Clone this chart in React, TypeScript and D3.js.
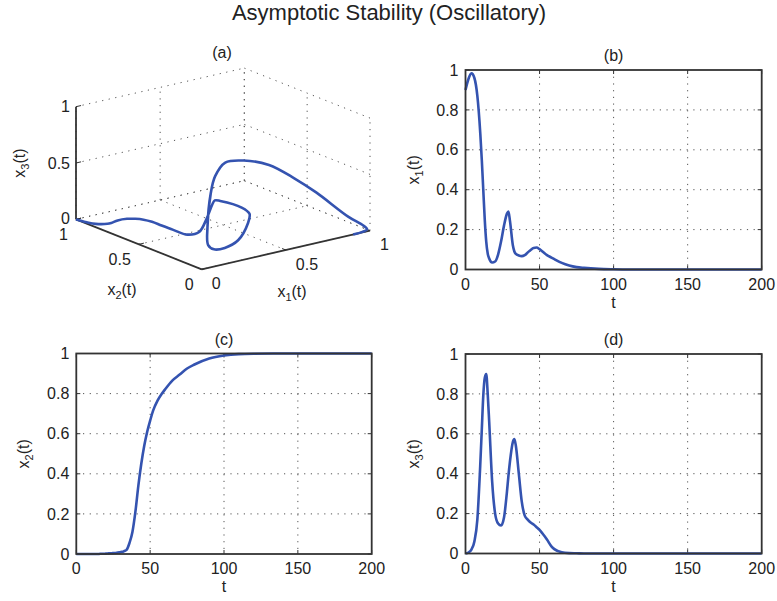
import React from 'react';
import * as d3 from 'd3';

// time samples shared by all three state variables
const TIME = [0, 2, 4, 6, 8, 10, 11, 12, 13, 14, 15, 16, 18, 20, 22, 24, 26, 28, 29, 30, 32, 33, 34, 36, 38, 40, 42, 44, 46, 48, 50, 52, 55, 58, 60, 65, 70, 75, 80, 90, 100, 110, 120, 140, 160, 180, 200];

const X1 = [0.9, 0.955, 0.983, 0.96, 0.87, 0.68, 0.55, 0.4, 0.25, 0.14, 0.08, 0.055, 0.035, 0.04, 0.075, 0.14, 0.22, 0.28, 0.29, 0.245, 0.12, 0.09, 0.078, 0.07, 0.067, 0.072, 0.085, 0.098, 0.108, 0.11, 0.102, 0.09, 0.072, 0.06, 0.052, 0.033, 0.02, 0.012, 0.008, 0.003, 0.001, 0, 0, 0, 0, 0, 0];

const X2 = [0, 0, 0, 0, 0, 0, 0, 0, 0, 0, 0, 0.001, 0.001, 0.002, 0.003, 0.004, 0.005, 0.007, 0.008, 0.01, 0.013, 0.016, 0.02, 0.055, 0.11, 0.21, 0.34, 0.45, 0.54, 0.61, 0.665, 0.715, 0.765, 0.8, 0.82, 0.865, 0.895, 0.925, 0.945, 0.975, 0.99, 0.997, 0.999, 1, 1, 1, 1];

const X3 = [0, 0.005, 0.02, 0.06, 0.17, 0.45, 0.62, 0.79, 0.88, 0.9, 0.8, 0.66, 0.36, 0.2, 0.15, 0.14, 0.18, 0.31, 0.39, 0.46, 0.56, 0.574, 0.54, 0.4, 0.26, 0.19, 0.17, 0.155, 0.145, 0.132, 0.118, 0.1, 0.07, 0.036, 0.022, 0.006, 0.002, 0.001, 0, 0, 0, 0, 0, 0, 0, 0, 0];

const T_TICKS = [0, 50, 100, 150, 200];
const V_TICKS = [0, 0.2, 0.4, 0.6, 0.8, 1];
const CUBE_TICKS = [0, 0.5, 1];

const TITLE = 'Asymptotic Stability (Oscillatory)';

const FONT = '"Liberation Sans", Arial, Helvetica, sans-serif';
const LINE_COLOR = '#3453b0';
const TEXT_COLOR = '#222';
const FRAME_COLOR = '#333';
const GRID_COLOR = '#555';
const GRID_DASH = '1.2 5.5';

function AxisLabel({ x, y, sub, rotate = false }: { x: number; y: number; sub: string; rotate?: boolean }) {
  return (
    <text
      x={x}
      y={y}
      transform={rotate ? `rotate(-90,${x},${y})` : undefined}
      textAnchor="middle"
      fontSize={16}
      fontFamily={FONT}
      fill={TEXT_COLOR}
    >
      x<tspan fontSize={11} dy={4}>{sub}</tspan>
      <tspan dy={-4}>(t)</tspan>
    </text>
  );
}

function TimePanel({ left, right, top, bottom, values, title, sub }: any) {
  const x = d3.scaleLinear().domain([0, 200]).range([left, right]);
  const y = d3.scaleLinear().domain([0, 1]).range([bottom, top]);
  const line = d3
    .line<number>()
    .x((_, i) => x(TIME[i]))
    .y(d => y(d))
    .curve(d3.curveMonotoneX);

  return (
    <g>
      {/* grid */}
      {T_TICKS.slice(1, -1).map(t => (
        <line key={'gx' + t} x1={x(t)} x2={x(t)} y1={top} y2={bottom} stroke={GRID_COLOR} strokeDasharray={GRID_DASH} />
      ))}
      {V_TICKS.slice(1, -1).map(v => (
        <line key={'gy' + v} x1={left} x2={right} y1={y(v)} y2={y(v)} stroke={GRID_COLOR} strokeDasharray={GRID_DASH} />
      ))}
      {/* inward ticks */}
      {T_TICKS.map(t => (
        <g key={'tx' + t} stroke={FRAME_COLOR}>
          <line x1={x(t)} x2={x(t)} y1={bottom} y2={bottom - 4} />
          <line x1={x(t)} x2={x(t)} y1={top} y2={top + 4} />
        </g>
      ))}
      {V_TICKS.map(v => (
        <g key={'ty' + v} stroke={FRAME_COLOR}>
          <line x1={left} x2={left + 4} y1={y(v)} y2={y(v)} />
          <line x1={right} x2={right - 4} y1={y(v)} y2={y(v)} />
        </g>
      ))}
      <path d={line(values) || ''} fill="none" stroke={LINE_COLOR} strokeWidth={2.6} strokeLinejoin="round" />
      <rect x={left} y={top} width={right - left} height={bottom - top} fill="none" stroke={FRAME_COLOR} strokeWidth={1.8} />
      {/* tick labels */}
      {T_TICKS.map(t => (
        <text key={'lx' + t} x={x(t)} y={bottom + 20} textAnchor="middle" fontSize={16} fontFamily={FONT} fill={TEXT_COLOR}>
          {t}
        </text>
      ))}
      {V_TICKS.map(v => (
        <text key={'ly' + v} x={left - 7} y={y(v)} dy="0.35em" textAnchor="end" fontSize={16} fontFamily={FONT} fill={TEXT_COLOR}>
          {v}
        </text>
      ))}
      <text x={(left + right) / 2} y={bottom + 38} textAnchor="middle" fontSize={16} fontFamily={FONT} fill={TEXT_COLOR}>
        t
      </text>
      <AxisLabel x={left - 47} y={(top + bottom) / 2} sub={sub} rotate />
      <text x={(left + right) / 2} y={top - 9} textAnchor="middle" fontSize={16} fontFamily={FONT} fill={TEXT_COLOR}>
        {title}
      </text>
    </g>
  );
}

function PhasePanel() {
  // oblique projection of the unit cube: each coordinate adds a screen offset
  const origin = { x: 201.7, y: 269.3 };
  const a1x = d3.scaleLinear().domain([0, 1]).range([0, 168.3]);
  const a1y = d3.scaleLinear().domain([0, 1]).range([0, -38.6]);
  const a2x = d3.scaleLinear().domain([0, 1]).range([0, -125.7]);
  const a2y = d3.scaleLinear().domain([0, 1]).range([0, -50]);
  const a3y = d3.scaleLinear().domain([0, 1]).range([0, -112.6]);
  const proj = (p: number[]): [number, number] => [
    origin.x + a1x(p[0]) + a2x(p[1]),
    origin.y + a1y(p[0]) + a2y(p[1]) + a3y(p[2]),
  ];

  const seg = (p: number[], q: number[]) => {
    const [xa, ya] = proj(p);
    const [xb, yb] = proj(q);
    return { x1: xa, y1: ya, x2: xb, y2: yb };
  };

  const grid: any[] = [];
  CUBE_TICKS.forEach(v => {
    // floor
    grid.push(seg([v, 0, 0], [v, 1, 0]));
    grid.push(seg([0, v, 0], [1, v, 0]));
    // back wall x2 = 1
    grid.push(seg([v, 1, 0], [v, 1, 1]));
    grid.push(seg([0, 1, v], [1, 1, v]));
    // back wall x1 = 1
    grid.push(seg([1, v, 0], [1, v, 1]));
    grid.push(seg([1, 0, v], [1, 1, v]));
  });

  const pts = TIME.map((_, i) => proj([X1[i], X2[i], X3[i]]));
  const line = d3.line().curve(d3.curveCatmullRom.alpha(0.5));

  const axes = [seg([0, 1, 0], [0, 1, 1]), seg([0, 0, 0], [0, 1, 0]), seg([0, 0, 0], [1, 0, 0])];

  return (
    <g>
      {grid.map((s, i) => (
        <line key={'g' + i} {...s} stroke={GRID_COLOR} strokeDasharray={GRID_DASH} />
      ))}
      {axes.map((s, i) => (
        <line key={'a' + i} {...s} stroke={FRAME_COLOR} strokeWidth={1.8} />
      ))}
      {CUBE_TICKS.map(v => (
        <g key={'t' + v} stroke={FRAME_COLOR}>
          <line {...seg([0, 1, v], [0.03, 1, v])} />
          <line {...seg([0, v, 0], [0.03, v, 0])} />
          <line {...seg([v, 0, 0], [v, 0.03, 0])} />
        </g>
      ))}
      <path d={line(pts) || ''} fill="none" stroke={LINE_COLOR} strokeWidth={2.6} strokeLinejoin="round" />
      {CUBE_TICKS.map(v => {
        const pz = proj([0, 1, v]);
        const p2 = proj([0, v, 0]);
        const p1 = proj([v, 0, 0]);
        return (
          <g key={'l' + v} fontSize={16} fontFamily={FONT} fill={TEXT_COLOR}>
            <text x={pz[0] - 6} y={pz[1] - (v === 0 ? 1 : 0)} dy="0.35em" textAnchor="end">{v}</text>
            <text x={p2[0] - 8} y={p2[1] + 15} dy="0.35em" textAnchor="end">{v}</text>
            <text x={p1[0] + 10} y={p1[1] + 14} dy="0.35em" textAnchor="start">{v}</text>
          </g>
        );
      })}
      <AxisLabel x={25} y={(proj([0, 1, 0])[1] + proj([0, 1, 1])[1]) / 2} sub="3" rotate />
      <AxisLabel x={122} y={295} sub="2" />
      <AxisLabel x={292} y={297} sub="1" />
      <text x={222} y={58} textAnchor="middle" fontSize={16} fontFamily={FONT} fill={TEXT_COLOR}>
        (a)
      </text>
    </g>
  );
}

export default function App() {
  return (
    <svg
      width={777}
      height={601}
      viewBox="0 0 777 601"
      style={{ position: 'absolute', left: 0, top: 0, background: '#fff' }}
    >
      <rect width={777} height={601} fill="#fff" />
      <text x={389} y={20} textAnchor="middle" fontSize={22} fontFamily={FONT} fill={TEXT_COLOR}>
        {TITLE}
      </text>
      <PhasePanel />
      <TimePanel left={465.5} right={761.7} top={70} bottom={269.5} values={X1} title="(b)" sub="1" />
      <TimePanel left={76.3} right={371.7} top={353.5} bottom={554} values={X2} title="(c)" sub="2" />
      <TimePanel left={465.5} right={761.7} top={354} bottom={553.5} values={X3} title="(d)" sub="3" />
    </svg>
  );
}
